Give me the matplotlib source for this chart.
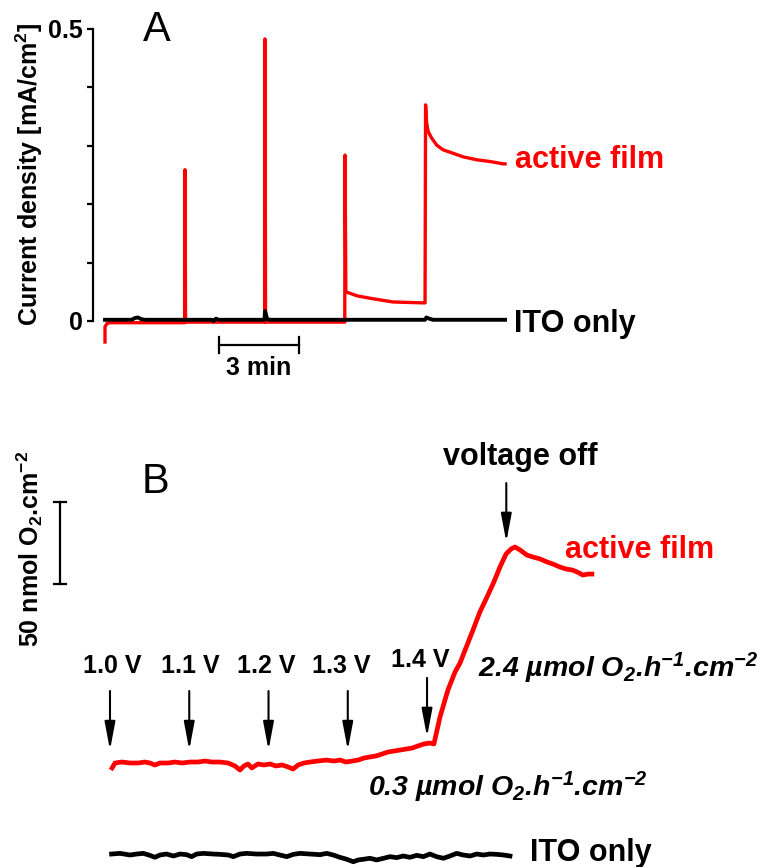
import matplotlib
matplotlib.use("Agg")
import matplotlib.pyplot as plt

plt.rcParams['font.family'] = ['Liberation Sans', 'DejaVu Sans']
plt.rcParams['font.weight'] = 'bold'
plt.rcParams['mathtext.fontset'] = 'custom'
plt.rcParams['mathtext.rm'] = 'Liberation Sans:bold'
plt.rcParams['mathtext.bf'] = 'Liberation Sans:bold'
plt.rcParams['mathtext.it'] = 'Liberation Sans:italic:bold'
plt.rcParams['mathtext.bfit'] = 'Liberation Sans:italic:bold'
plt.rcParams['mathtext.default'] = 'rm'

RED = '#ff0000'

# ---------------- Panel A: chronoamperometry (time in min, mA/cm2) ----------------
a_film_t = [0.0, 0.0, 0.08, 0.2, 1.0, 2.0, 2.99, 3.00, 3.02, 4.0, 5.0, 5.99, 6.00, 6.02,
            7.0, 8.0, 8.99, 9.00, 9.03, 9.45, 10.05, 10.8, 11.9, 12.00, 12.02, 12.06,
            12.12, 12.25, 12.44, 12.68, 13.06, 13.43, 13.94, 14.44, 14.93, 15.0]
a_film_j = [-0.036, -0.010, -0.004, -0.003, -0.003, -0.003, -0.003, 0.259, -0.002, -0.002,
            -0.002, -0.002, 0.483, -0.002, -0.002, -0.002, -0.002, 0.284, 0.050, 0.043,
            0.038, 0.0325, 0.031, 0.031, 0.370, 0.339, 0.324, 0.313, 0.301, 0.293, 0.287,
            0.281, 0.276, 0.273, 0.269, 0.269]

a_ito_t = [0.0, 1.0, 1.12, 1.24, 1.36, 1.5, 4.0, 4.08, 4.16, 4.26, 5.98, 6.00, 6.03,
           6.08, 6.2, 12.0, 12.05, 12.15, 12.3, 15.0]
a_ito_j = [0.002, 0.002, 0.005, 0.006, 0.003, 0.002, 0.002, 0.000, 0.004, 0.002, 0.002,
           0.017, 0.012, 0.003, 0.002, 0.002, 0.006, 0.004, 0.002, 0.002]

a_yticks = [0.0, 0.1, 0.2, 0.3, 0.4, 0.5]
a_yticklabels = ['0', '', '', '', '', '0.5']

# ---------------- Panel B: O2 evolution (time in min, nmol O2/cm2) ----------------
b_film_t = [0.08, 0.19, 0.45, 0.76, 1.06, 1.32, 1.51, 1.70, 1.89, 2.20, 2.46, 2.73, 3.03,
            3.33, 3.60, 3.86, 4.16, 4.47, 4.73, 4.92, 5.07, 5.22, 5.37, 5.60, 5.83, 6.06,
            6.28, 6.51, 6.74, 6.93, 7.12, 7.34, 7.57, 7.87, 8.18, 8.48, 8.71, 8.93, 9.16,
            9.39, 9.61, 9.84, 10.07, 10.30, 10.52, 10.75, 10.98, 11.20, 11.43, 11.66, 11.88,
            12.11, 12.26, 12.49, 12.79, 13.06, 13.25, 13.47, 13.74, 14.00, 14.27, 14.53,
            14.76, 14.99, 15.18, 15.33, 15.52, 15.78, 16.01, 16.28, 16.54, 16.77, 17.03,
            17.26, 17.49, 17.68, 17.90, 18.09, 18.24]
b_film_o2 = [-3.0, 0.0, 0.6, 0.0, 0.0, 0.6, 0.0, -1.2, 0.0, 0.0, 0.6, 0.0, 0.6, 0.6, 1.2,
             0.6, 0.6, 0.0, -1.8, -4.3, -1.8, -0.6, -3.0, -0.6, -1.2, -0.6, -1.8, -1.2,
             -2.4, -3.7, -1.2, 0.0, 0.6, 1.2, 1.8, 1.2, 1.8, 0.6, 1.2, 1.8, 3.0, 3.7, 4.3,
             5.5, 6.7, 7.3, 7.9, 8.5, 9.1, 10.4, 11.6, 12.2, 11.6, 28.0, 44.5, 55.5, 61.0,
             70.1, 81.1, 92.1, 101.2, 110.4, 119.5, 127.4, 130.5, 131.7, 129.9, 126.8,
             125.6, 124.4, 122.6, 121.3, 119.5, 118.3, 117.7, 116.5, 114.6, 115.2, 115.2]

b_ito_t = [0.06, 0.38, 0.76, 1.01, 1.26, 1.51, 1.70, 1.89, 2.14, 2.40, 2.65, 2.90, 3.09,
           3.28, 3.53, 3.91, 4.16, 4.48, 4.67, 4.92, 5.17, 5.55, 5.93, 6.18, 6.43, 6.69,
           6.94, 7.19, 7.57, 7.95, 8.20, 8.45, 8.70, 8.96, 9.21, 9.40, 9.59, 9.84, 10.09,
           10.35, 10.60, 10.85, 11.10, 11.35, 11.61, 11.86, 12.11, 12.36, 12.62, 12.87,
           13.12, 13.37, 13.63, 13.88, 14.13, 14.38, 14.64, 14.89, 15.14]
b_ito_o2 = [-55.5, -55.1, -56.1, -55.5, -55.1, -56.3, -57.5, -56.1, -55.5, -56.7, -55.5,
            -55.9, -57.1, -55.5, -55.1, -55.5, -55.7, -56.1, -57.1, -55.5, -55.1, -55.5,
            -55.5, -55.1, -56.1, -57.1, -55.7, -55.1, -55.5, -55.9, -55.1, -56.1, -57.5,
            -58.7, -60.2, -59.1, -58.7, -58.1, -59.1, -58.1, -57.1, -57.7, -56.7, -57.5,
            -56.3, -57.1, -55.5, -57.1, -58.1, -56.7, -55.1, -56.1, -56.7, -55.5, -56.1,
            -55.5, -55.7, -56.1, -56.7]

step_times = [0, 3, 6, 9, 12]
step_labels = ['1.0 V', '1.1 V', '1.2 V', '1.3 V', '1.4 V']
off_time = 15

W, H = 769, 867
fig = plt.figure(figsize=(W / 100, H / 100), dpi=100)


def frame(left, top, right, bottom):
    return [left / W, 1 - bottom / H, (right - left) / W, (bottom - top) / H]


# ======================= Panel A =======================
axA = fig.add_axes(frame(93, 17.3, 560, 356))
axA.set_xlim(-0.45, 17.06)
axA.set_ylim(-0.06, 0.52)
for side in ('top', 'right', 'bottom'):
    axA.spines[side].set_visible(False)
axA.spines['left'].set_bounds(0, 0.5)
axA.spines['left'].set_linewidth(1.6)
axA.set_xticks([])
axA.set_yticks(a_yticks)
axA.set_yticklabels(a_yticklabels)
axA.tick_params(axis='y', direction='out', length=4.5, width=1.6, labelsize=18, pad=3)
axA.patch.set_visible(False)

axA.plot(a_film_t, a_film_j, color=RED, lw=2.4, solid_joinstyle='round', zorder=2)
axA.plot(a_ito_t, a_ito_j, color='black', lw=2.8, zorder=3)

# 3 min time scale bar
sb_t0, sb_len, sb_y = 4.27, 3.0, -0.041
axA.plot([sb_t0, sb_t0 + sb_len], [sb_y, sb_y], color='black', lw=1.6, clip_on=False)
for tt in (sb_t0, sb_t0 + sb_len):
    axA.plot([tt, tt], [sb_y + 0.014, sb_y - 0.014], color='black', lw=1.6, clip_on=False)
axA.text(sb_t0 + sb_len / 2, -0.080, '3 min', ha='center', va='center', fontsize=18)

axA.text(1.95, 0.498, 'A', ha='center', va='center', fontsize=30, fontweight='normal')
axA.text(-2.85, 0.25, 'Current density [mA/cm$^{2}$]', rotation=90, ha='center',
         va='center', fontsize=18)
axA.text(15.37, 0.262, 'active film', color=RED, fontsize=22, va='baseline')
axA.text(15.34, -0.019, 'ITO only', color='black', fontsize=22, va='baseline')

# ======================= Panel B =======================
axB = fig.add_axes(frame(0, 440, 769, 867))
axB.set_xlim(-4.163, 24.943)
axB.set_ylim(-63.41, 196.95)
axB.axis('off')

axB.plot(b_film_t, b_film_o2, color=RED, lw=3.4, solid_joinstyle='round', zorder=2)
axB.plot(b_ito_t, b_ito_o2, color='black', lw=3.4, solid_joinstyle='round', zorder=2)

# 50 nmol scale bar
vb_t, vb_lo, vb_len = -1.89, 109.1, 50.0
axB.plot([vb_t, vb_t], [vb_lo, vb_lo + vb_len], color='black', lw=1.6, clip_on=False)
for yy in (vb_lo, vb_lo + vb_len):
    axB.plot([vb_t - 0.23, vb_t + 0.23], [yy, yy], color='black', lw=1.6, clip_on=False)
axB.text(-3.05, 130.5, '50 nmol O$_{2}$.cm$^{-2}$', rotation=90, ha='center', va='center',
         fontsize=18)

axB.text(1.74, 171.3, 'B', ha='center', va='center', fontsize=30, fontweight='normal')

arrow_style = dict(arrowstyle='-|>,head_length=17,head_width=3.2', mutation_scale=1,
                   lw=1.5, color='black', shrinkA=0, shrinkB=0)

step_tips = [7.9, 7.9, 7.9, 7.9, 15.9]
step_label_t = [0.09, 3.03, 5.90, 8.74, 11.73]
step_label_y = [54.9, 54.9, 54.9, 54.9, 58.5]
for t, tip, lt, ly, lab in zip(step_times, step_tips, step_label_t, step_label_y, step_labels):
    axB.annotate('', xy=(t, tip), xytext=(t, tip + 36), arrowprops=arrow_style)
    axB.text(lt, ly, lab, ha='center', va='baseline', fontsize=18)

axB.annotate('', xy=(off_time, 134.8), xytext=(off_time, 170.7), arrowprops=arrow_style)
axB.text(15.52, 181.7, 'voltage off', ha='center', va='baseline', fontsize=22)

rate_fast = '2.4 \u00b5mol O$_{\\mathbfit{2}}$.h$^{\\mathbfit{-1}}$.cm$^{\\mathbfit{-2}}$'
rate_slow = '0.3 \u00b5mol O$_{\\mathbfit{2}}$.h$^{\\mathbfit{-1}}$.cm$^{\\mathbfit{-2}}$'
axB.text(13.93, 52.4, rate_fast, fontsize=20.5, fontstyle='italic', va='baseline')
axB.text(9.77, -20.1, rate_slow, fontsize=20.5, fontstyle='italic', va='baseline')

axB.text(17.22, 125.0, 'active film', color=RED, fontsize=22, va='baseline')
axB.text(15.9, -59.8, 'ITO only', color='black', fontsize=22, va='baseline')

fig.savefig('out.png', dpi=100)
